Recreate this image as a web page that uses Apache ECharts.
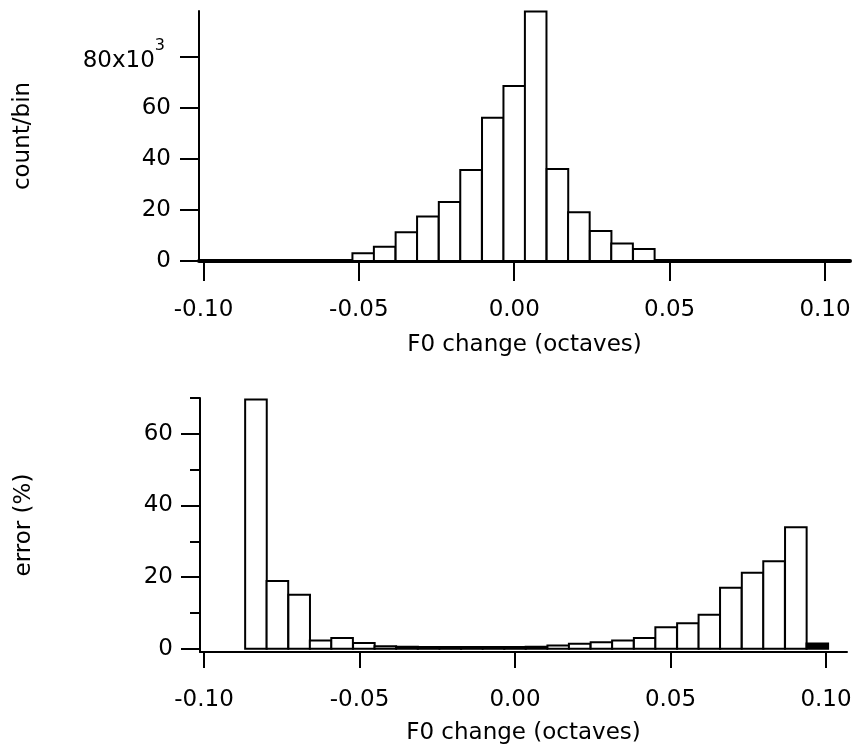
<!DOCTYPE html>
<html>
<head>
<meta charset="utf-8">
<script src="https://cdn.jsdelivr.net/npm/echarts@6/dist/echarts.min.js"></script>
<style>
  html, body { margin: 0; padding: 0; background: #ffffff; }
  #chart { width: 856px; height: 747px; }
</style>
</head>
<body>
<div id="chart"></div>
<script>
// ---------- data ----------
// bin width in octaves (1/144 octave bins)
const binWidth = 0.006944;

// Top panel: count per bin (x10^3), bin centres in octaves
const countBinCenters = [-0.0486, -0.0417, -0.0347, -0.0278, -0.0208, -0.0139, -0.0069,
                          0.0000, 0.0069, 0.0139, 0.0208, 0.0278, 0.0347, 0.0417];
const countValues = [3.0, 5.6, 11.3, 17.4, 23.1, 35.7, 56.2, 68.6, 97.8, 36.1, 19.1, 11.8, 6.9, 4.7];

// Bottom panel: error (%) per bin
const errorBinCenters = [-0.0833, -0.0764, -0.0694, -0.0625, -0.0556, -0.0486, -0.0417, -0.0347,
                         -0.0278, -0.0208, -0.0139, -0.0069, 0.0000, 0.0069, 0.0139, 0.0208,
                          0.0278, 0.0347, 0.0417, 0.0486, 0.0556, 0.0625, 0.0694, 0.0764,
                          0.0833, 0.0903];
const errorValues = [69.6, 18.9, 15.1, 2.3, 3.0, 1.6, 0.7, 0.6, 0.5, 0.5, 0.5, 0.5, 0.5, 0.6,
                     0.9, 1.4, 1.8, 2.3, 3.0, 6.0, 7.1, 9.5, 17.0, 21.2, 24.4, 33.9];
// last (overflow) bin drawn filled
const errorEdgeCenters = [0.0972];
const errorEdgeValues = [1.5];

// ticks
const xTicks = [-0.10, -0.05, 0.00, 0.05, 0.10];
const countTicks = [0, 20, 40, 60, 80];
const errorTicks = [0, 20, 40, 60];
const errorMinorTicks = [10, 30, 50, 70];

const xTitle = 'F0 change (octaves)';
const countTitle = 'count/bin';
const errorTitle = 'error (%)';

// ---------- chart ----------
const FONT = 'DejaVu Sans';
const FS = 23;
const chart = echarts.init(document.getElementById('chart'), null, { renderer: 'canvas' });

function zip(a, b) { return a.map((v, i) => [v, b[i]]); }

function makeRender(fill) {
  return function (params, api) {
    const c = api.value(0), v = api.value(1);
    const p0 = api.coord([c - binWidth / 2, 0]);
    const p1 = api.coord([c + binWidth / 2, v]);
    return {
      type: 'rect',
      shape: { x: p0[0], y: p1[1], width: p1[0] - p0[0], height: p0[1] - p1[1] },
      style: { fill: fill, stroke: '#000', lineWidth: 2 }
    };
  };
}

function xAxisCfg(gridIndex, min, max, lineW, tickLen, labelMargin, nameGap) {
  return {
    type: 'value', gridIndex: gridIndex, min: min, max: max,
    name: xTitle, nameLocation: 'middle', nameGap: nameGap,
    nameTextStyle: { fontFamily: FONT, fontSize: FS, color: '#000' },
    axisLine: { show: true, onZero: false, lineStyle: { color: '#000', width: lineW } },
    axisTick: { show: true, inside: false, length: tickLen, customValues: xTicks,
                lineStyle: { color: '#000', width: 2 } },
    axisLabel: { show: true, margin: labelMargin, customValues: xTicks,
                 fontFamily: FONT, fontSize: FS, color: '#000',
                 formatter: v => v.toFixed(2) },
    splitLine: { show: false }
  };
}

const option = {
  backgroundColor: '#ffffff',
  animation: false,
  grid: [
    { left: 199, top: 11, width: 651, height: 250 },
    { left: 200, top: 398, width: 647, height: 254 }
  ],
  xAxis: [
    xAxisCfg(0, -0.10145, 0.10805, 4, 20, 38, 73),
    xAxisCfg(1, -0.10129, 0.10675, 2, 16, 37, 70)
  ],
  yAxis: [
    {
      type: 'value', gridIndex: 0, min: 0, max: 98,
      name: countTitle, nameLocation: 'middle', nameGap: 164,
      nameTextStyle: { fontFamily: FONT, fontSize: FS, color: '#000' },
      axisLine: { show: true, onZero: false, lineStyle: { color: '#000', width: 2 } },
      axisTick: { show: true, length: 19, customValues: countTicks, lineStyle: { color: '#000', width: 2 } },
      axisLabel: {
        show: true, margin: 28, customValues: countTicks,
        fontFamily: FONT, fontSize: FS, color: '#000',
        formatter: v => (v === 80 ? '{n|80x10}{sup|3}' : String(v)),
        rich: {
          n: { fontFamily: FONT, fontSize: FS, color: '#000', padding: [8, 0, 0, 0] },
          sup: { fontFamily: FONT, fontSize: 16, color: '#000', padding: [0, 6, 22, 0] }
        }
      },
      splitLine: { show: false }
    },
    {
      type: 'value', gridIndex: 1, min: -0.9, max: 70,
      name: errorTitle, nameLocation: 'middle', nameGap: 164,
      nameTextStyle: { fontFamily: FONT, fontSize: FS, color: '#000' },
      axisLine: { show: true, onZero: false, lineStyle: { color: '#000', width: 2 } },
      axisTick: { show: true, length: 19, customValues: errorTicks, lineStyle: { color: '#000', width: 2 } },
      axisLabel: { show: true, margin: 27, customValues: errorTicks,
                   fontFamily: FONT, fontSize: FS, color: '#000' },
      splitLine: { show: false }
    },
    {
      type: 'value', gridIndex: 1, min: -0.9, max: 70, position: 'left', offset: 0,
      axisLine: { show: false, onZero: false },
      axisTick: { show: true, length: 10, customValues: errorMinorTicks, lineStyle: { color: '#000', width: 2 } },
      axisLabel: { show: false },
      splitLine: { show: false }
    }
  ],
  series: [
    { type: 'custom', name: 'count', xAxisIndex: 0, yAxisIndex: 0,
      renderItem: makeRender('#ffffff'), data: zip(countBinCenters, countValues), clip: false },
    { type: 'custom', name: 'error', xAxisIndex: 1, yAxisIndex: 1,
      renderItem: makeRender('#ffffff'), data: zip(errorBinCenters, errorValues), clip: false },
    { type: 'custom', name: 'error edge', xAxisIndex: 1, yAxisIndex: 1,
      renderItem: makeRender('#000000'), data: zip(errorEdgeCenters, errorEdgeValues), clip: false }
  ]
};
chart.setOption(option);
</script>
</body>
</html>
